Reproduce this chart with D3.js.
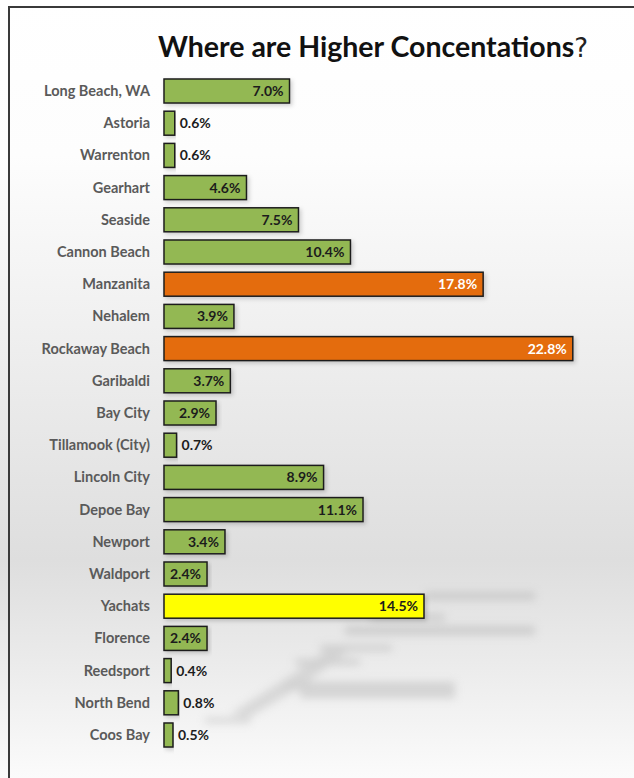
<!DOCTYPE html>
<html>
<head>
<meta charset="utf-8">
<script src="https://cdn.jsdelivr.net/npm/d3@7"></script>
<style>
  html, body { margin: 0; padding: 0; background: #fff; }
  svg { display: block; }
</style>
</head>
<body>
<svg id="chart" width="634" height="778"></svg>
<script>
// Share of units by coastal town (percent)
const towns = ["Long Beach, WA", "Astoria", "Warrenton", "Gearhart", "Seaside", "Cannon Beach",
  "Manzanita", "Nehalem", "Rockaway Beach", "Garibaldi", "Bay City", "Tillamook (City)",
  "Lincoln City", "Depoe Bay", "Newport", "Waldport", "Yachats", "Florence", "Reedsport",
  "North Bend", "Coos Bay"];
const shares = [7.0, 0.6, 0.6, 4.6, 7.5, 10.4, 17.8, 3.9, 22.8, 3.7, 2.9, 0.7,
  8.9, 11.1, 3.4, 2.4, 14.5, 2.4, 0.4, 0.8, 0.5];
// Highlight group per town: "high" = orange, "note" = yellow, otherwise green
const highlight = ["", "", "", "", "", "", "high", "", "high", "", "", "",
  "", "", "", "", "note", "", "", "", ""];

const fills = { "": "#93b853", high: "#e46c0a", note: "#ffff00" };
const labelInk = { "": "#1c1c1c", high: "#ffffff", note: "#1c1c1c" };

const rows = towns.map((t, i) => ({ town: t, value: shares[i], group: highlight[i] }));

const W = 634, H = 778;
const svg = d3.select("#chart");
const defs = svg.append("defs");

// Soft page background: white at the top, grey band low down, white again at the foot
const bg = defs.append("linearGradient").attr("id", "bg").attr("x1", 0).attr("y1", 0).attr("x2", 0).attr("y2", 1);
[[0, "#ffffff"], [0.2, "#fdfdfd"], [0.45, "#eeeeee"], [0.72, "#dedede"], [0.86, "#ececec"], [1, "#fbfbfb"]]
  .forEach(([o, c]) => bg.append("stop").attr("offset", o).attr("stop-color", c));
svg.append("rect").attr("width", W).attr("height", H).attr("fill", "url(#bg)");

// Blurred reflection streaks in the lower right
defs.append("filter").attr("id", "soft").attr("x", "-30%").attr("y", "-300%").attr("width", "160%").attr("height", "700%")
  .append("feGaussianBlur").attr("stdDeviation", 4.5);
const streaks = svg.append("g").attr("filter", "url(#soft)").attr("fill", "#b4b4b4").attr("opacity", 0.5);
[[425, 592, 110, 8], [370, 614, 75, 7], [345, 626, 190, 9], [320, 645, 72, 6], [295, 659, 65, 6],
 [285, 682, 170, 8], [300, 691, 155, 7], [205, 718, 45, 5]]
  .forEach(([x, y, w, h]) => streaks.append("rect").attr("x", x).attr("y", y).attr("width", w).attr("height", h));
streaks.append("path").attr("d", "M230,714 L290,676 L335,645 L352,648 L305,684 L248,718 Z").attr("opacity", 0.8);

// Frame lines on the top and left edges
svg.append("line").attr("x1", 9).attr("x2", W).attr("y1", 7).attr("y2", 7).attr("stroke", "#3a3a3a").attr("stroke-width", 2);
svg.append("line").attr("x1", 9).attr("x2", 9).attr("y1", 6).attr("y2", H).attr("stroke", "#3a3a3a").attr("stroke-width", 2);

// Title
const title = svg.append("text").attr("x", 158).attr("y", 57)
  .attr("font-family", "Lato, 'Open Sans', sans-serif").attr("font-weight", 700).attr("font-size", 28.5).attr("fill", "#111");
title.append("tspan").text("Where are Higher Concentations");
title.append("tspan").attr("font-weight", 400).attr("font-family", "'DejaVu Sans', sans-serif").attr("font-size", 26).attr("fill", "#222").text("?");

// Scales
const y = d3.scaleBand().domain(towns).range([74.9, 751.1]).paddingInner(0.2547).paddingOuter(0.1273);
const x = d3.scaleLinear().domain([0, 24]).range([164, 164 + 24 * 17.93]);

// Category axis (labels only)
const yAxis = svg.append("g").attr("transform", `translate(${x(0) - 6},0)`)
  .call(d3.axisLeft(y).tickSize(0).tickPadding(8));
yAxis.select(".domain").remove();
yAxis.selectAll("text").attr("font-family", "Lato, 'Open Sans', sans-serif").attr("font-weight", 700)
  .attr("font-size", 14.5).attr("fill", "#5a5a5a").attr("dy", "0.35em");

// Drop shadow for bars
const sh = defs.append("filter").attr("id", "barShadow").attr("x", "-5%").attr("y", "-30%").attr("width", "115%").attr("height", "170%");
sh.append("feDropShadow").attr("dx", 2).attr("dy", 2).attr("stdDeviation", 2).attr("flood-color", "#000").attr("flood-opacity", 0.18);

const bars = svg.append("g");
bars.selectAll("rect").data(rows).join("rect")
  .attr("x", x(0))
  .attr("y", d => y(d.town))
  .attr("width", d => x(d.value) - x(0))
  .attr("height", y.bandwidth())
  .attr("fill", d => fills[d.group])
  .attr("stroke", "#1e1e1e")
  .attr("stroke-width", 1.5)
  .attr("filter", "url(#barShadow)");

// Value labels: inside the bar end when there is room, otherwise just past it
const fmt = d => d.toFixed(1) + "%";
svg.append("g").selectAll("text").data(rows).join("text")
  .attr("font-family", "Lato, 'Open Sans', sans-serif").attr("font-weight", 700).attr("font-size", 14)
  .attr("y", d => y(d.town) + y.bandwidth() / 2)
  .attr("dy", "0.36em")
  .each(function (d) {
    const inside = d.value >= 2;
    d3.select(this)
      .attr("x", inside ? x(d.value) - 6 : x(d.value) + 5)
      .attr("text-anchor", inside ? "end" : "start")
      .attr("fill", inside ? labelInk[d.group] : "#1c1c1c")
      .text(fmt(d.value));
  });
</script>
</body>
</html>
